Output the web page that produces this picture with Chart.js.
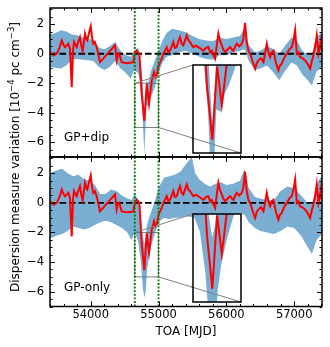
<!DOCTYPE html>
<html><head><meta charset="utf-8">
<script src="https://cdn.jsdelivr.net/npm/chart.js@4/dist/chart.umd.min.js"></script>
<style>
html,body{margin:0;padding:0;background:#fff;}
#wrap{position:relative;width:330px;height:347px;overflow:hidden;background:#fff;}
canvas{position:absolute;}
#ylab{position:absolute;left:15px;top:157px;transform:translate(-50%,-50%) rotate(-90deg);white-space:nowrap;font-family:"DejaVu Sans",sans-serif;font-size:12px;line-height:14px;color:#000;}
#ylab sup{font-size:8.5px;line-height:0;vertical-align:5px;}
</style></head><body>
<div id="wrap">
<canvas id="cTop" width="330" height="165" style="left:0;top:0"></canvas>
<canvas id="cBot" width="330" height="198" style="left:0;top:149px"></canvas>
<div id="ylab">Dispersion measure variation [10<sup>−4</sup> pc cm<sup>−3</sup>]</div>
</div>
<script>
// ---------- data ----------
const redMJD = [53405,53430,53450,53480,53500,53540,53573,53600,53621,53645,53670,53695,53720,53740,53754,53775,53793,53815,53842,53860,53882,53900,53916,53935,53950,53975,54000,54020,54038,54060,54088,54110,54137,54358,54383,54400,54422,54440,54457,54531,54600,54628,54650,54678,54700,54717,54752,54791,54826,54860,54900,54934,54955,54974,54995,55012,55030,55047,55071,55095,55121,55145,55170,55195,55218,55240,55268,55290,55317,55340,55366,55390,55416,55440,55465,55490,55513,55550,55587,55620,55661,55700,55735,55760,55785,55810,55834,55860,55882,55905,55932,55955,55981,56020,56055,56080,56104,56130,56153,56190,56227,56250,56276,56300,56325,56350,56375,56400,56424,56450,56473,56510,56547,56570,56596,56620,56645,56670,56694,56730,56767,56790,56817,56850,56891,56930,56965,56990,57014,57039,57065,57087,57120,57161,57200,57235,57260,57284,57310,57333,57358,57380,57393,57408];
const redDM = [0.1,0.0,-0.12,-0.05,0.0,0.4,0.9,0.6,0.45,0.55,0.68,0.3,-2.27,0.3,0.8,0.6,0.45,0.8,1.13,0.6,0.2,0.8,1.36,1.0,0.91,1.4,1.86,1.1,0.68,0.8,0.45,0.0,-0.57,0.57,-0.45,-0.1,0.0,-0.3,-0.57,-0.64,-0.6,-0.57,0.0,0.22,0.1,0.0,-2.73,-4.55,-2.05,-3.37,-1.82,-1.25,-1.6,-1.48,-0.9,-0.68,-0.5,-0.34,0.0,0.2,0.45,0.1,0.22,0.5,0.8,0.4,0.45,0.8,1.13,0.7,0.57,0.9,1.25,0.9,0.8,0.6,0.45,0.55,0.45,0.35,0.2,0.4,0.45,0.1,0.2,-0.1,-0.34,0.6,1.36,0.9,0.57,0.3,0.11,0.3,0.45,0.3,0.2,0.5,0.68,0.5,0.68,1.0,2.09,0.8,0.2,0.0,-0.34,-0.7,-1.02,-0.6,-0.45,-0.3,-0.57,0.0,0.68,0.1,-0.23,0.1,0.2,-0.6,-1.13,-0.8,-0.68,-0.3,0.0,0.3,0.45,0.9,1.59,0.0,0.1,-0.23,-0.3,-0.45,-0.7,-1.02,-0.5,-0.11,0.5,1.25,0.0,0.5,0.91,0.2];

// GP+dip model band (top panel)
const dipBandMJD = [53400,53480,53560,53640,53720,53800,53880,53960,54040,54120,54200,54280,54360,54440,54520,54590,54640,54700,54730,54760,54780,54790,54800,54820,54850,54880,54910,54950,55000,55060,55120,55200,55300,55400,55500,55600,55700,55800,55900,56000,56100,56200,56270,56330,56420,56500,56600,56700,56780,56860,56960,57040,57120,57200,57260,57330,57410];
const dipBandHi = [1.3,1.4,1.6,1.5,1.3,1.25,1.1,1.05,0.9,0.4,0.3,0.5,0.8,0.2,-0.1,-0.2,0.2,0.4,-0.3,-1.6,-3.2,-4.0,-3.3,-1.8,-2.0,-1.3,-0.9,-0.4,0.2,0.9,1.4,1.7,1.6,1.45,1.2,1.0,0.9,0.85,1.1,1.0,1.1,1.2,1.8,0.6,0.1,0.2,0.5,0.3,0.0,0.5,1.1,0.9,0.2,-0.1,0.0,1.2,1.4];
const dipBandLo = [-0.9,-0.95,-1.0,-0.8,-0.4,-0.35,-0.4,-0.45,-0.5,-0.9,-1.1,-0.9,-0.5,-1.0,-1.3,-1.7,-1.1,-1.3,-2.0,-3.6,-5.8,-6.8,-5.8,-3.5,-3.6,-3.0,-2.7,-2.2,-1.3,-0.6,-0.2,-0.1,0.1,0.2,0.0,-0.2,-0.35,-0.4,-0.1,-0.1,0.1,0.2,0.3,-0.5,-1.1,-1.0,-0.8,-1.3,-1.8,-1.2,-0.6,-0.8,-1.4,-1.8,-2.15,-1.2,-0.9];

// GP-only model band (bottom panel)
const gpBandMJD = [53400,53500,53580,53660,53740,53820,53900,53980,54060,54140,54220,54300,54380,54460,54540,54600,54650,54700,54740,54770,54790,54810,54830,54860,54900,54950,55000,55080,55160,55240,55320,55400,55490,55540,55600,55680,55760,55840,55920,56000,56100,56200,56270,56330,56420,56500,56600,56700,56800,56900,57000,57100,57200,57260,57330,57410];
const gpBandHi = [2.0,2.2,2.3,2.0,1.8,1.9,1.6,1.5,1.2,0.6,0.6,0.9,0.8,0.5,0.3,0.2,0.6,0.2,-1.0,-2.2,-2.8,-2.4,-1.5,-1.0,-0.5,0.2,1.0,1.7,1.8,1.9,2.1,2.6,3.1,2.0,1.6,1.3,1.1,1.3,1.4,1.2,1.3,1.5,2.3,1.0,0.4,0.3,0.2,0.2,0.8,1.1,1.0,0.5,0.0,-0.1,1.2,1.9];
const gpBandLo = [-2.4,-2.2,-2.1,-1.9,-1.6,-1.7,-1.8,-1.7,-1.5,-1.3,-1.2,-1.3,-1.5,-1.7,-2.0,-2.5,-2.0,-2.6,-4.0,-5.8,-6.4,-6.0,-4.6,-3.6,-2.8,-2.0,-1.3,-1.0,-1.1,-1.0,-1.0,-0.9,-0.95,-1.3,-1.5,-1.8,-2.0,-1.7,-1.5,-1.2,-0.9,-0.7,-0.8,-1.3,-1.7,-1.9,-2.0,-2.1,-1.9,-1.6,-1.7,-2.2,-3.0,-3.45,-2.5,-2.1];

const panelLabels = ['GP+dip', 'GP-only'];
const xTickLabels = [54000, 55000, 56000, 57000];
const yTickLabels = [-6, -4, -2, 0, 2];
const X_MINOR = 200, Y_MINOR = 0.5;
const X_LIM = [53400, 57410], Y_LIM = [-7, 3.1];
const DIP = [54650, 55000];       // dip window / inset x-range
const INSET_Y = [-5, -2];         // inset y-range
// ---------- layout ----------
const INSET_FRAC = {l:0.5246, r:0.702, t:0.381, b:0.97};
const FONT = '"DejaVu Sans", sans-serif';
Chart.defaults.font.family = FONT;
Chart.defaults.color = '#000';
const wrapEl = document.getElementById('wrap');

function pts(xs, ys){ return xs.map((x,i)=>({x:x, y:ys[i]})); }
function bandDatasets(bx,bhi,blo){
  return [
    {data:pts(redMJD,redDM), borderColor:'#ff0000', borderWidth:2, pointRadius:0, fill:false, order:1, clip:0},
    {data:pts(bx,bhi), borderColor:'rgba(0,0,0,0)', borderWidth:0, pointRadius:0, backgroundColor:'rgba(31,119,180,0.6)', fill:'+1', order:5, clip:0},
    {data:pts(bx,blo), borderColor:'rgba(0,0,0,0)', borderWidth:0, pointRadius:0, fill:false, order:6, clip:0}
  ];
}
function insetBox(chart){
  const a = chart.chartArea;
  return {l:Math.round(a.left+INSET_FRAC.l*a.width), r:Math.round(a.left+INSET_FRAC.r*a.width),
          t:Math.round(a.top+INSET_FRAC.t*a.height), b:Math.round(a.top+INSET_FRAC.b*a.height)};
}
function yFmt(v){ return v<0 ? '\u2212'+Math.abs(v) : String(v); }

function panelPlugin(label){
  return {
    id:'panelDeco',
    beforeDatasetsDraw(chart){
      const {ctx, scales:{x,y}} = chart;
      const x0=x.getPixelForValue(DIP[0]), x1=x.getPixelForValue(DIP[1]);
      const yT=y.getPixelForValue(INSET_Y[1]), yB=y.getPixelForValue(INSET_Y[0]);
      ctx.save(); ctx.strokeStyle='#808080'; ctx.lineWidth=1;
      ctx.strokeRect(x0,yT,x1-x0,yB-yT); ctx.restore();
    },
    afterDatasetsDraw(chart){
      const {ctx, scales:{x,y}} = chart;
      const b = insetBox(chart);
      const x0=x.getPixelForValue(DIP[0]), x1=x.getPixelForValue(DIP[1]);
      const yT=y.getPixelForValue(INSET_Y[1]), yB=y.getPixelForValue(INSET_Y[0]);
      ctx.save(); ctx.strokeStyle='#808080'; ctx.lineWidth=1;
      ctx.beginPath(); ctx.moveTo(x0,yT); ctx.lineTo(b.l,b.t); ctx.moveTo(x1,yB); ctx.lineTo(b.r,b.b); ctx.stroke();
      ctx.restore();
    },
    afterDraw(chart){
      const {ctx, chartArea:a, scales:{x,y}} = chart;
      ctx.save(); ctx.strokeStyle='#000'; ctx.lineWidth=1; ctx.beginPath();
      for (let v=Math.ceil(X_LIM[0]/X_MINOR)*X_MINOR; v<=X_LIM[1]; v+=X_MINOR){
        const px=Math.round(x.getPixelForValue(v))+0.5, len=xTickLabels.includes(v)?5:2.5;
        ctx.moveTo(px,a.bottom); ctx.lineTo(px,a.bottom-len);
        ctx.moveTo(px,a.top); ctx.lineTo(px,a.top+len);
      }
      for (let k=Math.ceil(Y_LIM[0]/Y_MINOR); k*Y_MINOR<=Y_LIM[1]; k++){
        const v=k*Y_MINOR, py=Math.round(y.getPixelForValue(v))+0.5, len=yTickLabels.includes(v)?5:2.5;
        ctx.moveTo(a.left,py); ctx.lineTo(a.left+len,py);
        ctx.moveTo(a.right,py); ctx.lineTo(a.right-len,py);
      }
      ctx.stroke();
      ctx.lineWidth=1.5; ctx.strokeRect(a.left,a.top,a.width,a.height);
      ctx.fillStyle='#000'; ctx.font='12px '+FONT; ctx.textBaseline='middle'; ctx.textAlign='left';
      ctx.fillText(label, a.left+14, a.bottom-19);
      ctx.restore();
    }
  };
}

function mainChart(id, bx,bhi,blo, label, showX, pad){
  const ds = bandDatasets(bx,bhi,blo);
  ds.unshift({data:[{x:X_LIM[0],y:0},{x:X_LIM[1],y:0}], borderColor:'#000', borderWidth:1.8, borderDash:[6.6,2.9], pointRadius:0, fill:false, order:2, clip:0});
  ds.unshift({data:[{x:DIP[0],y:Y_LIM[0]},{x:DIP[0],y:Y_LIM[1]}], borderColor:'#008000', borderWidth:1.9, borderDash:[1.9,1.7], pointRadius:0, fill:false, order:0, clip:0});
  ds.unshift({data:[{x:DIP[1],y:Y_LIM[0]},{x:DIP[1],y:Y_LIM[1]}], borderColor:'#008000', borderWidth:1.9, borderDash:[1.9,1.7], pointRadius:0, fill:false, order:0, clip:0});
  return new Chart(document.getElementById(id), {
    type:'line',
    data:{datasets:ds},
    options:{
      responsive:false, animation:false, events:[],
      layout:{padding:pad},
      plugins:{legend:{display:false}, tooltip:{enabled:false}},
      scales:{
        x:{type:'linear', min:X_LIM[0], max:X_LIM[1], display:showX,
           afterBuildTicks:s=>{s.ticks=xTickLabels.map(v=>({value:v}));},
           ticks:{font:{size:11.5}, color:'#000', padding:2, maxRotation:0, autoSkip:false, callback:v=>String(v)},
           grid:{display:false, drawTicks:false}, border:{display:false},
           title:{display:showX, text:'TOA [MJD]', font:{size:12}, color:'#000', padding:{top:0,bottom:7.8}},
           afterFit:s=>{ if(showX) s.height=40.5; }},
        y:{type:'linear', min:Y_LIM[0], max:Y_LIM[1],
           afterBuildTicks:s=>{s.ticks=yTickLabels.map(v=>({value:v}));},
           ticks:{font:{size:11.5}, color:'#000', padding:0, autoSkip:false, callback:v=>yFmt(v)},
           grid:{display:false, drawTicks:true, tickLength:6}, border:{display:false},
           afterFit:s=>{s.width=50;}}
      }
    },
    plugins:[panelPlugin(label)]
  });
}

function makeInset(main, pageTop, bx,bhi,blo){
  const b = insetBox(main);
  const M = 2;
  const cv = document.createElement('canvas');
  cv.width=(b.r-b.l)+2*M; cv.height=(b.b-b.t)+2*M;
  cv.style.left=(b.l-M)+'px'; cv.style.top=(pageTop+b.t-M)+'px';
  wrapEl.appendChild(cv);
  const x=main.scales.x, y=main.scales.y;
  const p0={x:x.getPixelForValue(DIP[0])-(b.l-M), y:y.getPixelForValue(INSET_Y[1])-(b.t-M)};
  const p1={x:x.getPixelForValue(DIP[1])-(b.l-M), y:y.getPixelForValue(INSET_Y[0])-(b.t-M)};
  return new Chart(cv, {
    type:'line',
    data:{datasets:bandDatasets(bx,bhi,blo)},
    options:{responsive:false, animation:false, events:[], layout:{padding:M},
      plugins:{legend:{display:false}, tooltip:{enabled:false}},
      scales:{x:{type:'linear', display:false, min:DIP[0], max:DIP[1]},
              y:{type:'linear', display:false, min:INSET_Y[0], max:INSET_Y[1]}}},
    plugins:[{id:'insetDeco',
      beforeDraw(c){const a=c.chartArea; c.ctx.save(); c.ctx.fillStyle='#fff'; c.ctx.fillRect(a.left,a.top,a.width,a.height); c.ctx.restore();},
      afterDraw(c){const {ctx,chartArea:a}=c; ctx.save(); ctx.strokeStyle='#808080'; ctx.lineWidth=1;
        ctx.beginPath(); ctx.moveTo(p0.x,p0.y); ctx.lineTo(a.left,a.top); ctx.moveTo(p1.x,p1.y); ctx.lineTo(a.right,a.bottom); ctx.stroke();
        ctx.strokeStyle='#000'; ctx.lineWidth=1.5; ctx.strokeRect(a.left,a.top,a.width,a.height); ctx.restore();}
    }]
  });
}

const topChart = mainChart('cTop', dipBandMJD, dipBandHi, dipBandLo, panelLabels[0], false, {left:0,right:8,top:8,bottom:8});
const botChart = mainChart('cBot', gpBandMJD, gpBandHi, gpBandLo, panelLabels[1], true, {left:0,right:8,top:8,bottom:0});
makeInset(topChart, 0, dipBandMJD, dipBandHi, dipBandLo);
makeInset(botChart, 149, gpBandMJD, gpBandHi, gpBandLo);
</script>
</body></html>
